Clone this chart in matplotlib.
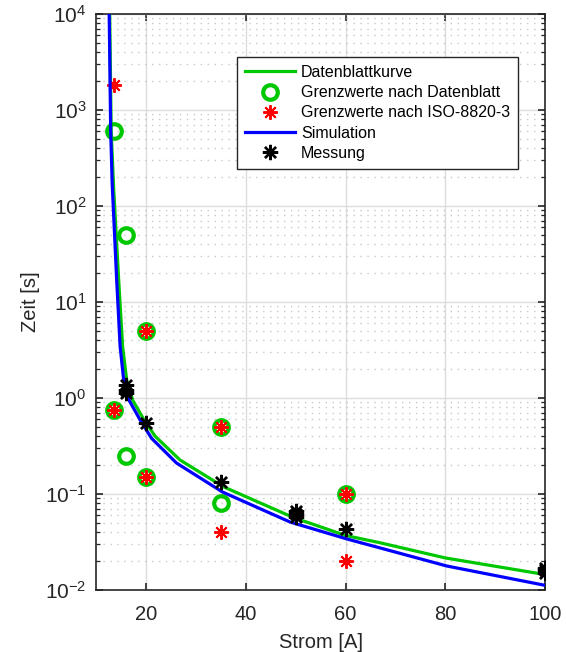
import math
import matplotlib
matplotlib.use("Agg")
import matplotlib.pyplot as plt
from matplotlib.ticker import FixedLocator, FuncFormatter, LogLocator, NullFormatter

plt.rcParams['font.family'] = ['Liberation Sans', 'DejaVu Sans']
plt.rcParams['mathtext.default'] = 'regular'

# Datenblattkurve (green line)
kurve_x = [12.7, 13.0, 13.5, 14.5, 15.3, 16.1, 17.3, 19.6, 21.8, 26.8, 35.5, 49.5, 60.0, 67.0, 80.0, 100.0]
kurve_y = [1e4, 600, 150, 17, 3.4, 1.55, 0.95, 0.59, 0.40, 0.226, 0.119, 0.057, 0.037, 0.031, 0.0216, 0.0145]

# Simulation (blue line)
sim_x = [12.6, 12.9, 13.2, 14.1, 14.8, 15.5, 16.1, 18.8, 21.1, 26.1, 35.3, 48.9, 60.3, 80.3, 100.0]
sim_y = [1e4, 600, 170, 17, 3.4, 1.55, 1.05, 0.59, 0.38, 0.21, 0.105, 0.051, 0.034, 0.0178, 0.0112]

# Grenzwerte nach Datenblatt (green circles)
db_x = [13.5, 13.5, 16, 16, 20, 20, 35, 35, 60]
db_y = [600, 0.75, 50, 0.25, 5, 0.15, 0.5, 0.08, 0.1]

# Grenzwerte nach ISO-8820-3 (red asterisks)
iso_x = [13.5, 13.5, 20, 20, 35, 35, 60, 60]
iso_y = [1800, 0.75, 5, 0.15, 0.5, 0.04, 0.1, 0.02]

# Messung (black asterisks)
mess_x = [16, 16, 16, 20, 35, 50, 50, 50, 60, 100, 100, 100]
mess_y = [1.12, 1.22, 1.36, 0.55, 0.133, 0.058, 0.062, 0.066, 0.043, 0.015, 0.016, 0.017]

xticks = [20, 40, 60, 80, 100]
yticks = [1e-2, 1e-1, 1e0, 1e1, 1e2, 1e3, 1e4]

fig = plt.figure(figsize=(5.66, 6.52), dpi=100)
ax = fig.add_axes([0.170, 0.095, 0.793, 0.884])

green = '#00c800'
ax.plot(kurve_x, kurve_y, color=green, lw=2.3, label='Datenblattkurve', zorder=3)
ax.plot(db_x, db_y, ls='none', marker='o', ms=10.5, mfc='none', mec=green, mew=3.0,
        label='Grenzwerte nach Datenblatt', zorder=4)
ax.plot(iso_x, iso_y, ls='none', marker=(8, 2, 0), ms=10.5, mec='#ff0000', mew=1.4,
        label='Grenzwerte nach ISO-8820-3', zorder=5)
ax.plot(sim_x, sim_y, color='#0000ff', lw=2.3, label='Simulation', zorder=6)
ax.plot(mess_x, mess_y, ls='none', marker=(8, 2, 0), ms=11, mec='black', mew=1.7,
        label='Messung', zorder=7)

ax.set_yscale('log')
ax.set_xlim(10, 100)
ax.set_ylim(1e-2, 1e4)
ax.xaxis.set_major_locator(FixedLocator(xticks))
ax.yaxis.set_major_locator(FixedLocator(yticks))
ax.yaxis.set_minor_locator(LogLocator(base=10, subs=range(2, 10), numticks=20))
ax.yaxis.set_minor_formatter(NullFormatter())
ax.yaxis.set_major_formatter(FuncFormatter(lambda v, p: r'$10^{%d}$' % round(math.log10(v))))

dark = '#262626'
for s in ax.spines.values():
    s.set_color(dark)
    s.set_linewidth(1.2)
ax.tick_params(which='both', direction='in', top=True, right=True, colors=dark)
ax.tick_params(axis='x', labelsize=14.5, pad=11)
ax.tick_params(axis='y', labelsize=15, pad=7)
ax.tick_params(which='major', length=5, width=1.2)
ax.tick_params(which='minor', length=3, width=0.9)
ax.tick_params(axis='x', which='minor', bottom=False, top=False)

ax.grid(True, which='major', color='#dcdcdc', lw=1.0, ls='-', zorder=0)
ax.grid(True, which='minor', axis='y', color='#c8c8c8', lw=1.0, ls=(0, (1, 4)), zorder=0)
ax.set_axisbelow(True)

ax.set_xlabel('Strom [A]', fontsize=14.5, color=dark, labelpad=6)
ax.set_ylabel('Zeit [s]', fontsize=14.5, color=dark)

leg = ax.legend(loc='upper right', bbox_to_anchor=(0.94, 0.925), fontsize=11.5,
                frameon=True, fancybox=False, framealpha=1, edgecolor=dark,
                handlelength=3.1, handletextpad=0.4, labelspacing=0.33,
                borderpad=0.5, borderaxespad=0)
leg.get_frame().set_linewidth(1.0)

fig.savefig('out.png', dpi=100)
